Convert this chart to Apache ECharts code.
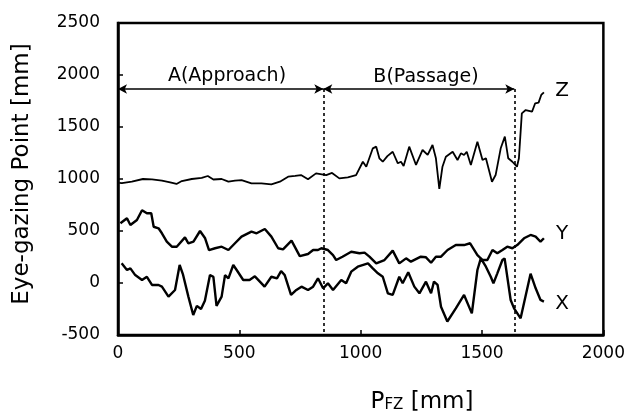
<!DOCTYPE html>
<html>
<head>
<meta charset="utf-8">
<script src="https://cdn.jsdelivr.net/npm/echarts@6/dist/echarts.min.js"></script>
<style>
html,body{margin:0;padding:0;background:#fff;}
#chart{width:628px;height:418px;}
</style>
</head>
<body>
<div id="chart"></div>
<script>
// ---- data ----
const zPos = [5,16,57,103,140,181,215,241,263,304,345,370,393,427,455,482,509,550,591,632,667,701,730,754,783,816,840,858,882,912,947,981,1009,1023,1050,1064,1077,1091,1110,1132,1153,1166,1177,1200,1228,1255,1276,1296,1310,1324,1337,1351,1379,1399,1413,1426,1437,1454,1481,1502,1516,1541,1556,1577,1594,1608,1625,1644,1652,1664,1680,1706,1719,1733,1744,1755];
const zVal = [962,960,975,1000,997,984,968,952,980,1000,1010,1029,995,1000,974,984,990,958,958,948,974,1022,1030,1038,997,1054,1045,1038,1058,1006,1016,1038,1166,1118,1295,1311,1199,1166,1220,1262,1151,1166,1125,1311,1135,1279,1231,1327,1199,905,1118,1214,1262,1183,1247,1231,1262,1135,1359,1183,1199,974,1038,1295,1407,1199,1166,1118,1200,1631,1663,1647,1728,1734,1808,1834];

const yPos = [10,37,51,78,99,119,137,147,167,181,201,222,242,276,290,311,338,359,375,400,427,455,482,509,550,571,605,632,660,680,715,749,783,804,824,838,865,886,899,925,961,995,1016,1036,1064,1098,1132,1159,1187,1207,1248,1269,1290,1310,1331,1358,1392,1426,1451,1481,1502,1522,1543,1563,1584,1604,1625,1645,1673,1700,1721,1741,1755];
const yVal = [574,622,558,606,700,670,670,541,526,478,397,349,349,439,381,397,500,430,317,334,349,317,382,446,494,478,519,446,334,324,407,259,279,317,317,334,317,269,221,253,301,286,292,253,189,221,311,189,237,205,253,247,195,253,253,317,365,365,382,269,221,221,317,285,317,349,334,365,430,462,446,397,430];

const xPos = [15,37,51,71,99,119,140,167,181,208,235,254,268,290,310,325,342,358,366,379,393,406,427,441,455,475,489,516,542,564,604,632,655,672,687,713,735,756,783,804,824,845,865,886,920,940,961,988,1030,1050,1071,1091,1112,1132,1159,1173,1196,1221,1242,1269,1290,1302,1317,1331,1357,1392,1426,1458,1481,1495,1516,1536,1547,1563,1584,1593,1618,1632,1659,1700,1721,1741,1755];
const xVal = [189,125,141,76,29,60,-19,-19,-35,-131,-67,173,80,-131,-308,-220,-250,-170,-170,76,60,-220,-131,76,45,173,125,29,29,64,-35,60,45,115,76,-115,-67,-35,-67,-35,45,-51,-3,-67,29,-3,109,157,189,141,93,60,-99,-115,60,-3,103,-35,-99,13,-99,13,-19,-228,-370,-244,-115,-292,125,237,157,60,-3,93,221,237,-163,-244,-340,90,-51,-163,-179];

const xTicks = [0, 500, 1000, 1500, 2000];
const yTicks = [-500, 0, 500, 1000, 1500, 2000, 2500];
const boundA = 846;      // end of A(Approach)
const boundB = 1633;     // end of B(Passage)
const arrowLevel = 1865;

function pairs(p, v) { return p.map((x, i) => [x, v[i]]); }

const FONT = 'DejaVu Sans';
const chart = echarts.init(document.getElementById('chart'), null, {renderer: 'canvas'});
const lineBase = {type: 'line', showSymbol: false, symbol: 'none', animation: false, silent: true};

chart.setOption({
  animation: false,
  backgroundColor: '#fff',
  grid: {left: 118, right: 23, top: 23, bottom: 83, show: true, borderColor: '#000', borderWidth: 2.5},
  xAxis: {
    type: 'value', min: xTicks[0], max: xTicks[xTicks.length - 1], interval: 500,
    axisLine: {show: true, onZero: false, lineStyle: {color: '#000', width: 2.5}},
    axisTick: {show: true, inside: true, length: 5, lineStyle: {color: '#000', width: 1.5}},
    axisLabel: {color: '#000', fontFamily: FONT, fontSize: 17, margin: 10, formatter: v => String(v)},
    splitLine: {show: false}
  },
  yAxis: {
    type: 'value', min: yTicks[0], max: yTicks[yTicks.length - 1], interval: 500,
    axisLine: {show: true, onZero: false, lineStyle: {color: '#000', width: 2.5}},
    axisTick: {show: true, inside: true, length: 5, lineStyle: {color: '#000', width: 1.5}},
    axisLabel: {color: '#000', fontFamily: FONT, fontSize: 17, margin: 18, formatter: v => String(v)},
    splitLine: {show: false}
  },
  series: [
    Object.assign({}, lineBase, {
      name: 'Z', data: pairs(zPos, zVal), lineStyle: {color: '#000', width: 1.8},
      markLine: {
        silent: true, animation: false, label: {show: false},
        symbolSize: [7, 9],
        data: [
          [{coord: [0, arrowLevel], symbol: 'arrow', lineStyle: {color: '#000', width: 1.5, type: 'solid'}},
           {coord: [boundA, arrowLevel], symbol: 'arrow'}],
          [{coord: [boundA, arrowLevel], symbol: 'arrow', lineStyle: {color: '#000', width: 1.5, type: 'solid'}},
           {coord: [boundB, arrowLevel], symbol: 'arrow'}],
          [{coord: [boundA, arrowLevel], symbol: 'none', lineStyle: {color: '#000', width: 1.6, type: [3, 3]}},
           {coord: [boundA, yTicks[0]], symbol: 'none'}],
          [{coord: [boundB, arrowLevel], symbol: 'none', lineStyle: {color: '#000', width: 1.6, type: [3, 3]}},
           {coord: [boundB, yTicks[0]], symbol: 'none'}]
        ]
      }
    }),
    Object.assign({}, lineBase, {name: 'Y', data: pairs(yPos, yVal), lineStyle: {color: '#000', width: 2.4}}),
    Object.assign({}, lineBase, {name: 'X', data: pairs(xPos, xVal), lineStyle: {color: '#000', width: 2.4}})
  ],
  graphic: [
    {type: 'text', x: 22, y: 174, rotation: Math.PI / 2, silent: true,
     style: {text: 'Eye-gazing Point [mm]', fontFamily: FONT, fontSize: 23, fill: '#000', align: 'center', verticalAlign: 'middle'}},
    {type: 'text', x: 422, y: 402, silent: true,
     style: {text: '{a|P}{b|FZ}{a| [mm]}', align: 'center', verticalAlign: 'middle', fill: '#000',
       rich: {a: {fontFamily: FONT, fontSize: 23, fill: '#000', verticalAlign: 'bottom'},
              b: {fontFamily: FONT, fontSize: 15, fill: '#000', verticalAlign: 'bottom', padding: [0, 0, 1, 0]}}}},
    {type: 'text', x: 227, y: 76, silent: true,
     style: {text: 'A(Approach)', fontFamily: FONT, fontSize: 19, fill: '#000', align: 'center', verticalAlign: 'middle'}},
    {type: 'text', x: 426, y: 77, silent: true,
     style: {text: 'B(Passage)', fontFamily: FONT, fontSize: 19, fill: '#000', align: 'center', verticalAlign: 'middle'}},
    {type: 'text', x: 562, y: 91, silent: true,
     style: {text: 'Z', fontFamily: FONT, fontSize: 20, fill: '#000', align: 'center', verticalAlign: 'middle'}},
    {type: 'text', x: 562, y: 234, silent: true,
     style: {text: 'Y', fontFamily: FONT, fontSize: 20, fill: '#000', align: 'center', verticalAlign: 'middle'}},
    {type: 'text', x: 562, y: 304, silent: true,
     style: {text: 'X', fontFamily: FONT, fontSize: 20, fill: '#000', align: 'center', verticalAlign: 'middle'}}
  ]
});
</script>
</body>
</html>
